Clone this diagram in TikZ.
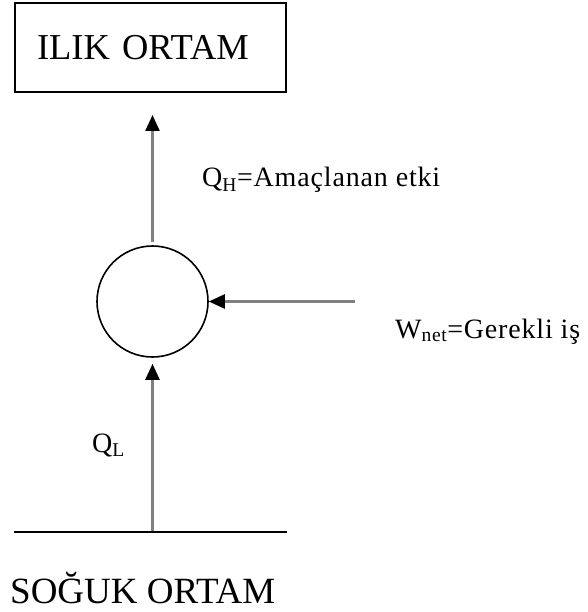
\documentclass[tikz,border=0pt]{standalone}
\usepackage{fontspec}
\setmainfont{Liberation Serif}
\usetikzlibrary{arrows.meta}
\definecolor{linegray}{RGB}{128,128,128}
\tikzset{
  flow/.style={draw=linegray, line width=2.4pt, -{Triangle[length=16pt,width=14pt,color=black,fill=black]}},
  biglabel/.style={font=\fontsize{37}{40}\selectfont, inner sep=0pt, anchor=base west},
  smalllabel/.style={font=\fontsize{28}{30}\selectfont\addfontfeatures{LetterSpace=3}, inner sep=0pt, anchor=base west},
}
\begin{document}
\begin{tikzpicture}[x=1pt,y=-1pt]
\useasboundingbox (0,0) rectangle (587,612);
% hot reservoir box
\node[draw=black, line width=1.8pt, minimum width=271pt, minimum height=89pt,
      inner xsep=22pt, inner ysep=0pt, text width=227pt, align=left,
      font=\fontsize{36.5}{40}\selectfont] (hot) at (150.5,47.5) {ILIK ORTAM};
% machine circle
\node[draw=black, line width=1.6pt, circle, minimum size=111pt, inner sep=0pt] (c) at (152.5,301.5) {};
% cold reservoir line
\coordinate (gl) at (14,532);
\coordinate (gr) at (287,532);
\coordinate (gm) at (152.5,531);
\draw[black, line width=2.2pt] (gl) -- (gr);
% arrows
\coordinate (qhtip) at (152.5,115);
\draw[flow] ([yshift=3pt]c.north) -- (qhtip);
\draw[flow] (gm) -- ([yshift=-6pt]c.south);
\coordinate (wstart) at (355,301.5);
\draw[flow] (wstart) -- (c.east);
% labels
\node[smalllabel] (qh) at (202,187) {Q\textsubscript{H}=Amaçlanan etki};
\node[smalllabel] (w) at (395,338) {W\textsubscript{net}=Gerekli iş};
\node[smalllabel] (ql) at (92,452) {Q\textsubscript{L}};
\node[biglabel] (cold) at (10,603) {SOĞUK ORTAM};
\end{tikzpicture}
\end{document}
